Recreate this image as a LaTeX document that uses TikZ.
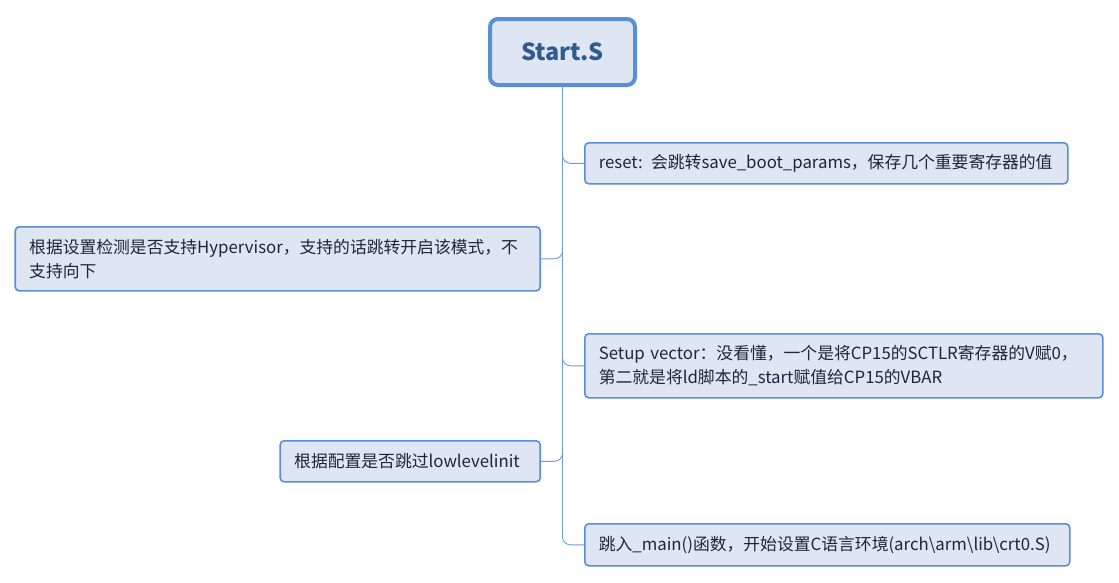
\documentclass[tikz,border=0pt]{standalone}
\usepackage{fontspec}
\setmainfont{Noto Sans CJK SC}
\definecolor{boxFill}{HTML}{DDE6F2}
\definecolor{boxBorder}{HTML}{5B8ED6}
\definecolor{branchLine}{HTML}{6E9DD9}
\definecolor{textDark}{HTML}{1C2838}
\definecolor{rootText}{HTML}{2F5B8F}
\begin{document}
\begin{tikzpicture}[x=1pt,y=-1pt,
    topic/.style={draw=boxBorder, fill=boxFill, line width=1.6pt, rounded corners=4pt,
      inner xsep=14pt, inner ysep=0pt, align=left, text=textDark,
      font=\fontsize{16.8}{24}\selectfont},
    rootTopic/.style={draw=boxBorder, fill=boxFill, line width=4pt, rounded corners=8pt,
      minimum width=145pt, minimum height=66pt, text=rootText,
      font=\fontsize{23.5}{28}\selectfont\bfseries},
    branch/.style={draw=branchLine, line width=0.9pt, rounded corners=8pt}]
    \useasboundingbox (0,0) rectangle (1119,582);  % page size

    % central topic
    \node[rootTopic] (root) at (562.5,52) {Start.S};

    % right side topics
    \node[topic, anchor=north west, minimum height=41pt, text width=455pt] (reset) at (584,142)
      {reset: 会跳转save\_boot\_params，保存几个重要寄存器的值};
    \node[topic, anchor=north west, minimum height=64pt, text width=490pt] (vector) at (584,333)
      {Setup vector：没看懂，一个是将CP15的SCTLR寄存器的V赋0，\\第二就是将ld脚本的\_start赋值给CP15的VBAR};
    \node[topic, anchor=north west, minimum height=42pt, text width=457pt] (crt) at (584,523)
      {跳入\_main()函数，开始设置C语言环境(arch\textbackslash arm\textbackslash lib\textbackslash crt0.S)};

    % left side topics
    \node[topic, anchor=north east, minimum height=64pt, text width=497pt] (hyp) at (541,226)
      {根据设置检测是否支持Hypervisor，支持的话跳转开启该模式，不\\支持向下};
    \node[topic, anchor=north east, minimum height=41pt, text width=232pt] (lowlevel) at (541,440)
      {根据配置是否跳过lowlevelinit};

    % branches
    \draw[branch] (root.south) |- (reset.west);
    \draw[branch] (root.south) |- (hyp.east);
    \draw[branch] (root.south) |- (vector.west);
    \draw[branch] (root.south) |- (lowlevel.east);
    \draw[branch] (root.south) |- (crt.west);
\end{tikzpicture}
\end{document}
